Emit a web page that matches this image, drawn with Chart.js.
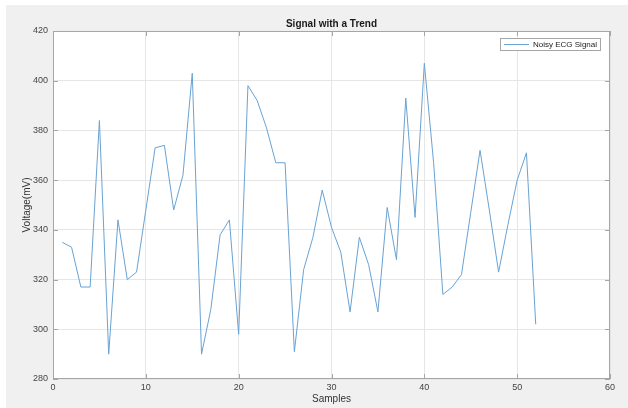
<!DOCTYPE html>
<html>
<head>
<meta charset="utf-8">
<script src="https://cdn.jsdelivr.net/npm/chart.js@4/dist/chart.umd.min.js"></script>
<style>
html,body{margin:0;padding:0;background:#fff;}
#c{display:block;}
</style>
</head>
<body>
<canvas id="c" width="628" height="408"></canvas>
<script>
const samples = [1,2,3,4,5,6,7,8,9,10,11,12,13,14,15,16,17,18,19,20,21,22,23,24,25,26,27,28,29,30,31,32,33,34,35,36,37,38,39,40,41,42,43,44,45,46,47,48,49,50,51,52];
const voltage = [335,333,317,317,384,290,344,320,323,348,
                 373,374,348,362,403,290,308,338,344,298,
                 398,392,381,367,367,291,324,337,356,341,
                 331,307,337,326,307,349,328,393,345,407,
                 367,314,317,322,347,372,348,323,342,360,
                 371,302];
const xTicks = [0,10,20,30,40,50,60];
const yTicks = [280,300,320,340,360,380,400,420];
const seriesName = 'Noisy ECG Signal';
const chartTitle = 'Signal with a Trend';
const xTitle = 'Samples';
const yTitle = 'Voltage(mV)';

const lineColor = 'rgb(105,163,212)';
const FONT = '"Liberation Sans", Arial, Helvetica, sans-serif';

const decor = {
  id: 'decor',
  beforeDraw(chart) {
    const ctx = chart.ctx, a = chart.chartArea;
    ctx.save();
    ctx.fillStyle = '#ffffff';
    ctx.fillRect(0, 0, chart.width, chart.height);
    ctx.fillStyle = '#f0f0f0';
    ctx.fillRect(6, 5, chart.width - 6, chart.height - 5);
    ctx.fillStyle = '#ffffff';
    ctx.fillRect(a.left, a.top, a.right - a.left, a.bottom - a.top);
    ctx.restore();
  },
  afterDraw(chart) {
    const ctx = chart.ctx, a = chart.chartArea;
    const xs = chart.scales.x, ys = chart.scales.y;
    ctx.save();
    // frame
    ctx.strokeStyle = '#a6a6a6';
    ctx.lineWidth = 1;
    ctx.strokeRect(a.left + 0.5, a.top + 0.5, a.right - a.left - 1, a.bottom - a.top - 1);
    // inward ticks
    ctx.beginPath();
    xTicks.forEach(v => {
      const px = Math.round(xs.getPixelForValue(v)) + 0.5;
      ctx.moveTo(px, a.bottom); ctx.lineTo(px, a.bottom - 5);
      ctx.moveTo(px, a.top); ctx.lineTo(px, a.top + 5);
    });
    yTicks.forEach(v => {
      const py = Math.round(ys.getPixelForValue(v)) + 0.5;
      ctx.moveTo(a.left, py); ctx.lineTo(a.left + 5, py);
      ctx.moveTo(a.right, py); ctx.lineTo(a.right - 5, py);
    });
    ctx.stroke();
    // title
    ctx.fillStyle = '#1a1a1a';
    ctx.font = 'bold 10px ' + FONT;
    ctx.textAlign = 'center';
    ctx.textBaseline = 'middle';
    ctx.fillText(chartTitle, (a.left + a.right) / 2, 24);
    // axis titles
    ctx.fillStyle = '#333';
    ctx.font = '10px ' + FONT;
    ctx.fillText(xTitle, (a.left + a.right) / 2, 399);
    ctx.translate(27, (a.top + a.bottom) / 2);
    ctx.rotate(-Math.PI / 2);
    ctx.fillText(yTitle, 0, 0);
    ctx.setTransform(1, 0, 0, 1, 0, 0);
    // legend
    const lx = 500, ly = 38, lw = 100, lh = 12;
    ctx.fillStyle = '#ffffff';
    ctx.fillRect(lx, ly, lw, lh);
    ctx.strokeStyle = '#a6a6a6';
    ctx.strokeRect(lx + 0.5, ly + 0.5, lw, lh);
    ctx.strokeStyle = lineColor;
    ctx.beginPath();
    ctx.moveTo(lx + 4, ly + 6.5); ctx.lineTo(lx + 29, ly + 6.5);
    ctx.stroke();
    ctx.fillStyle = '#222';
    ctx.font = '8px ' + FONT;
    ctx.textAlign = 'right';
    ctx.textBaseline = 'middle';
    ctx.fillText(seriesName, lx + lw - 3, ly + 6.5);
    ctx.restore();
  }
};

new Chart(document.getElementById('c'), {
  type: 'line',
  data: {
    datasets: [{
      label: seriesName,
      data: samples.map((s, i) => ({x: s, y: voltage[i]})),
      borderColor: lineColor,
      borderWidth: 1,
      pointRadius: 0,
      tension: 0,
      fill: false
    }]
  },
  options: {
    responsive: false,
    animation: false,
    devicePixelRatio: 1,
    layout: {padding: {left: 0, top: 31, right: 18, bottom: 0}},
    plugins: {legend: {display: false}, title: {display: false}, tooltip: {enabled: false}},
    scales: {
      x: {
        type: 'linear', min: 0, max: 60,
        afterBuildTicks(s) { s.ticks = xTicks.map(v => ({value: v})); },
        afterFit(s) { s.height = 29; },
        grid: {color: '#e6e6e6', drawTicks: false, lineWidth: 1},
        border: {display: false},
        ticks: {color: '#444', font: {family: FONT, size: 9}, padding: 3, maxRotation: 0}
      },
      y: {
        type: 'linear', min: 280, max: 420,
        afterBuildTicks(s) { s.ticks = yTicks.map(v => ({value: v})); },
        afterFit(s) { s.width = 53; },
        grid: {color: '#e6e6e6', drawTicks: false, lineWidth: 1},
        border: {display: false},
        ticks: {color: '#444', font: {family: FONT, size: 9}, padding: 5}
      }
    }
  },
  plugins: [decor]
});
</script>
</body>
</html>
